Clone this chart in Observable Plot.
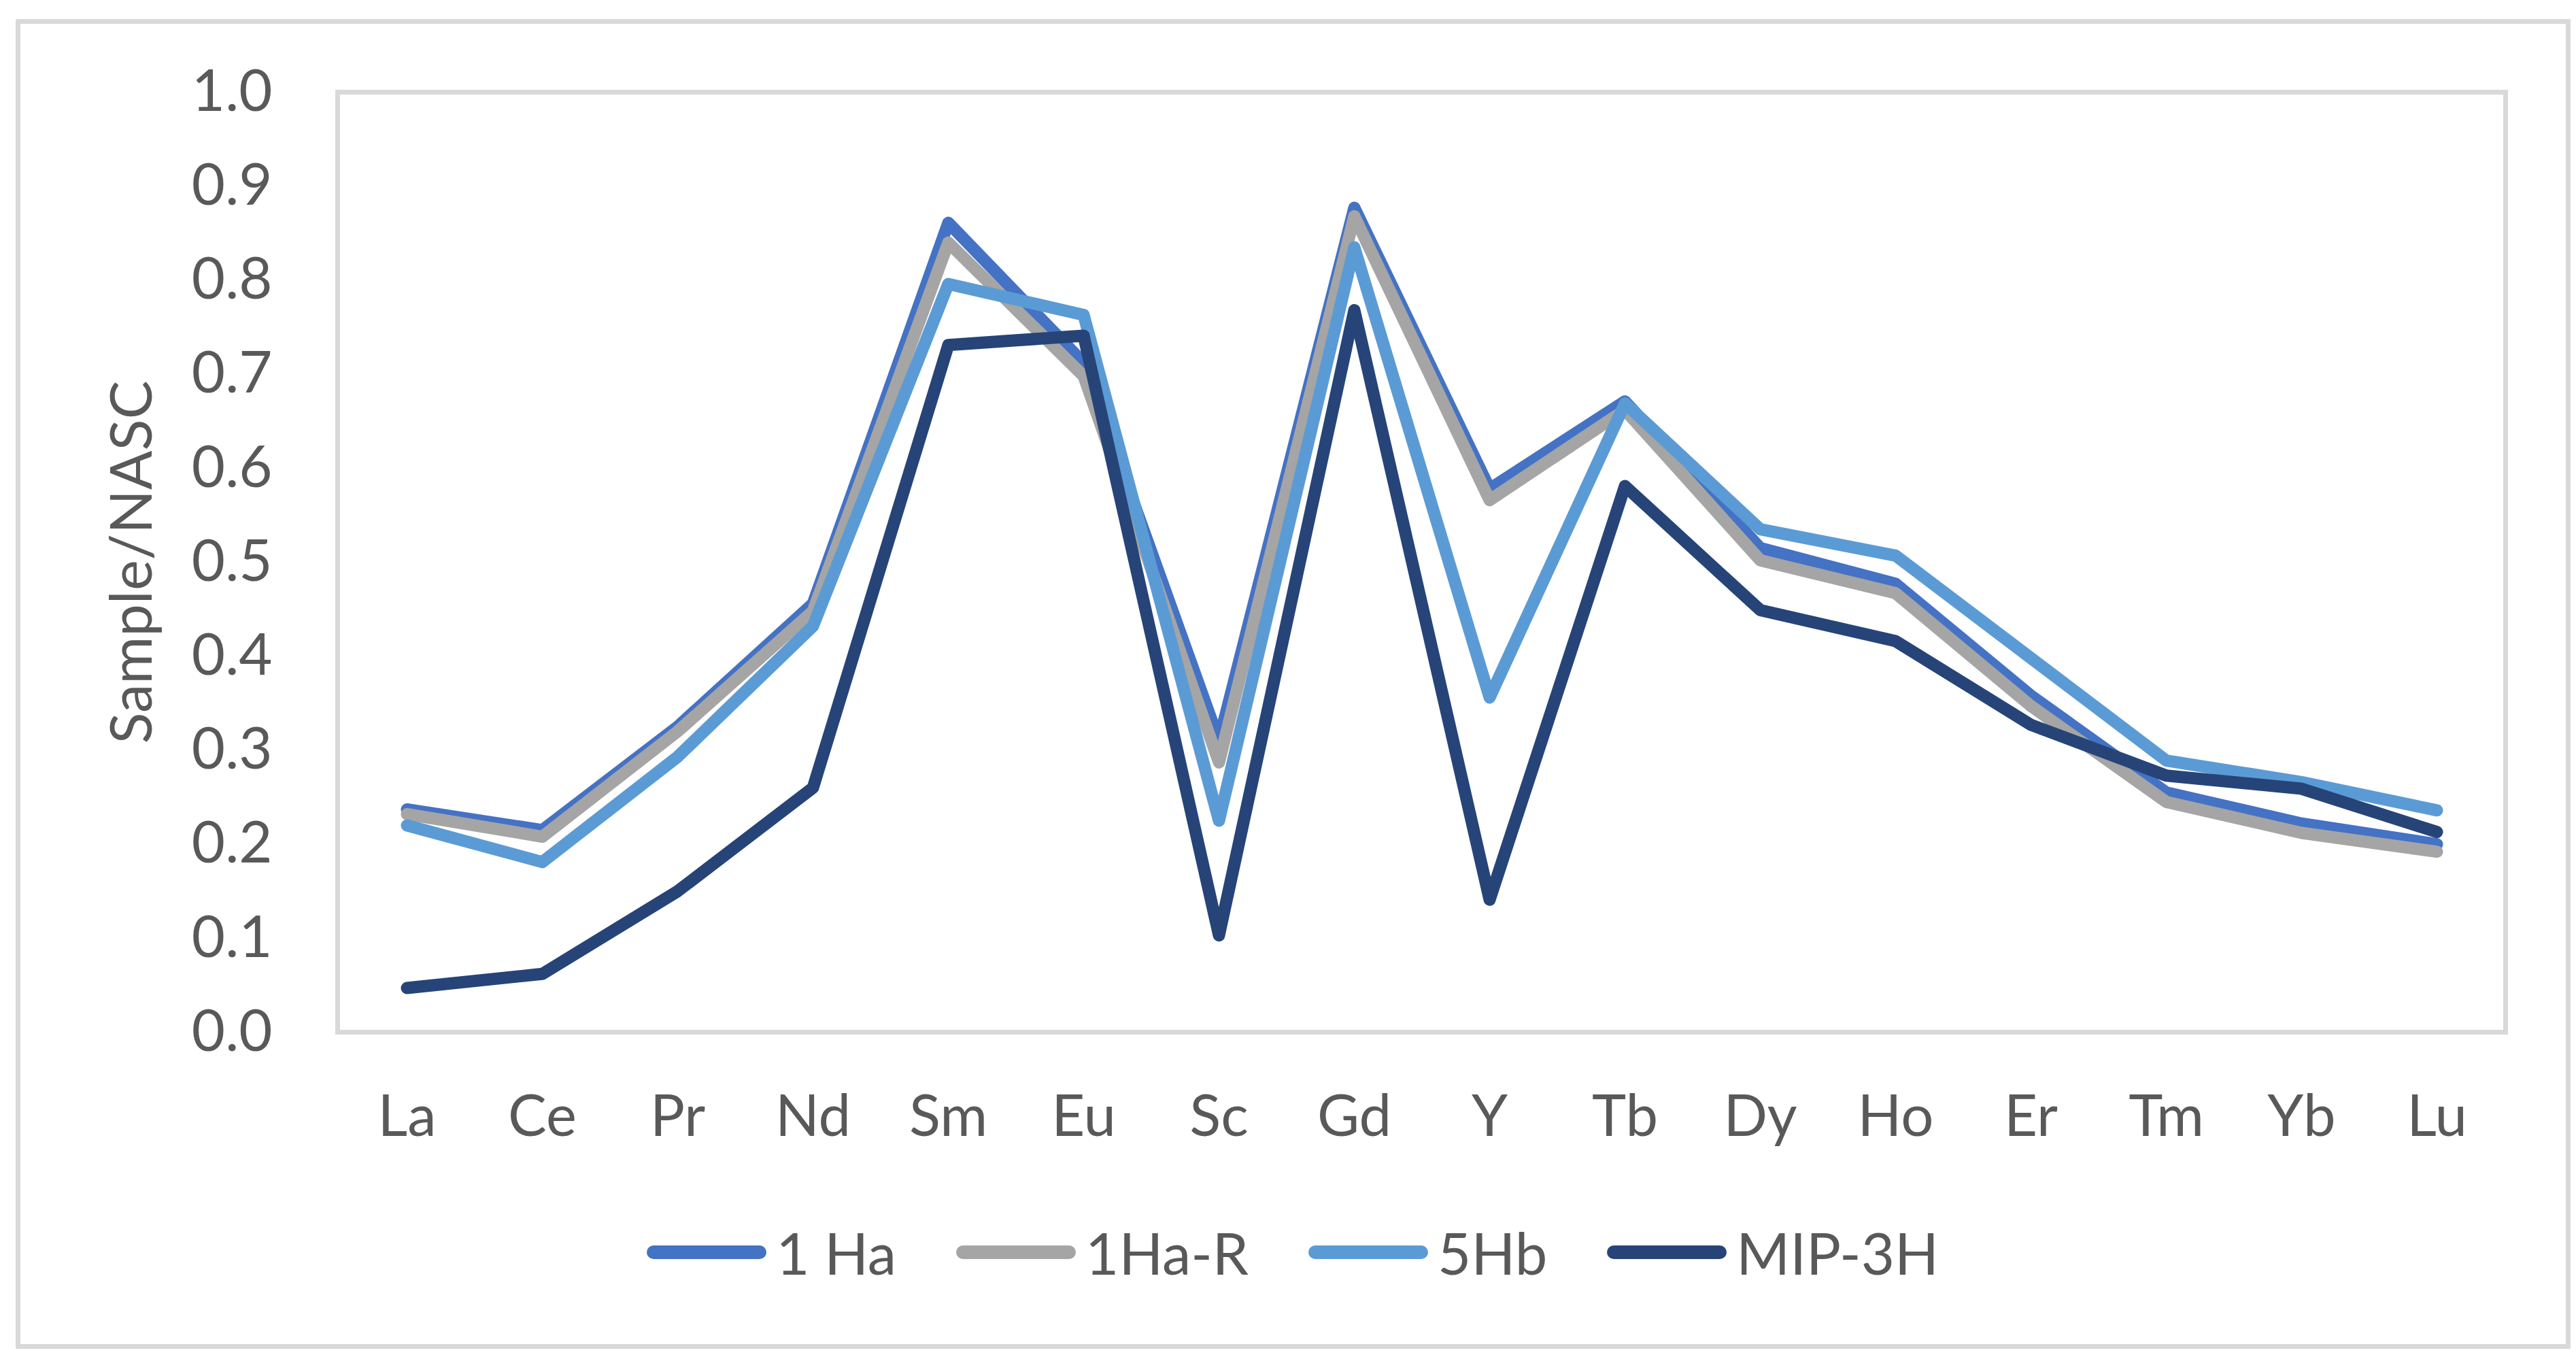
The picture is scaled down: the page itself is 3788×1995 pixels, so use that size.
<!DOCTYPE html>
<html><head><meta charset="utf-8">
<script src="https://cdn.jsdelivr.net/npm/d3@7"></script>
<script src="https://cdn.jsdelivr.net/npm/@observablehq/plot@0.6"></script>
<style>
html,body{margin:0;padding:0;background:#fff;}
#wrap{position:relative;width:3788px;height:1995px;overflow:hidden;font-family:Lato,sans-serif;background:#fff;}
#chart{position:absolute;left:0;top:0;}
#border{position:absolute;left:23px;top:28px;width:3757px;height:1955px;border:7px solid #d9d9d9;box-sizing:border-box;pointer-events:none;}
#legend{position:absolute;top:1796px;left:14px;width:3774px;height:90px;display:flex;justify-content:center;align-items:center;}
.item{display:flex;align-items:center;margin:0 44px;}
.swatch{width:176px;height:20px;border-radius:10px;margin-right:14px;}
.lab{font-size:85px;color:#595959;line-height:1;}
</style>
</head><body>
<div id="wrap"><div id="chart"></div><div id="border"></div><div id="legend"></div></div>
<script>
const categories = ["La","Ce","Pr","Nd","Sm","Eu","Sc","Gd","Y","Tb","Dy","Ho","Er","Tm","Yb","Lu"];
const seriesNames = ["1 Ha","1Ha-R","5Hb","MIP-3H"];
const seriesColors = ["#4472C4","#A5A5A5","#5B9BD5","#264478"];
const s1Ha  = [0.237,0.215,0.325,0.456,0.861,0.712,0.310,0.877,0.578,0.671,0.515,0.477,0.358,0.255,0.222,0.200];
const s1HaR = [0.232,0.208,0.320,0.448,0.840,0.698,0.287,0.868,0.566,0.662,0.502,0.467,0.347,0.245,0.212,0.192];
const s5Hb  = [0.220,0.181,0.293,0.432,0.796,0.763,0.225,0.835,0.356,0.669,0.535,0.507,0.398,0.289,0.266,0.236];
const sMIP  = [0.047,0.062,0.150,0.260,0.731,0.741,0.103,0.768,0.141,0.581,0.449,0.416,0.327,0.273,0.259,0.213];
const yTicks = [0,0.1,0.2,0.3,0.4,0.5,0.6,0.7,0.8,0.9,1.0];
const yLabel = "Sample/NASC";

const allSeries = [s1Ha, s1HaR, s5Hb, sMIP];
const data = [];
allSeries.forEach((vals, si) => vals.forEach((v, i) => data.push({series: seriesNames[si], cat: categories[i], value: v})));

const FS = 85;
const chart = Plot.plot({
  width: 3788, height: 1995,
  marginLeft: 496, marginRight: 104, marginTop: 135, marginBottom: 478,
  style: {fontFamily: "Lato, sans-serif", background: "transparent"},
  x: {type: "point", domain: categories, padding: 0.5},
  y: {domain: [0, 1]},
  color: {domain: seriesNames, range: seriesColors},
  marks: [
    Plot.frame({stroke: "#d9d9d9", strokeWidth: 7}),
    Plot.axisY({ticks: yTicks, tickFormat: d3.format(".1f"), tickSize: 0, tickPadding: 96, fontSize: FS, fill: "#595959", label: null}),
    Plot.axisX({tickSize: 0, tickPadding: 92, fontSize: FS, fill: "#595959", label: null}),
    Plot.text([yLabel], {frameAnchor: "left", textAnchor: "middle", dx: -301, rotate: -90, fontSize: FS, fill: "#595959"}),
    Plot.line(data, {x: "cat", y: "value", z: "series", stroke: "series", strokeWidth: 18, strokeLinejoin: "round", strokeLinecap: "round"})
  ]
});
document.getElementById("chart").appendChild(chart);

const legend = document.getElementById("legend");
seriesNames.forEach((n, i) => {
  const it = document.createElement("div"); it.className = "item";
  const sw = document.createElement("div"); sw.className = "swatch"; sw.style.background = seriesColors[i];
  const lb = document.createElement("div"); lb.className = "lab"; lb.textContent = n;
  it.appendChild(sw); it.appendChild(lb); legend.appendChild(it);
});
</script>
</body></html>
